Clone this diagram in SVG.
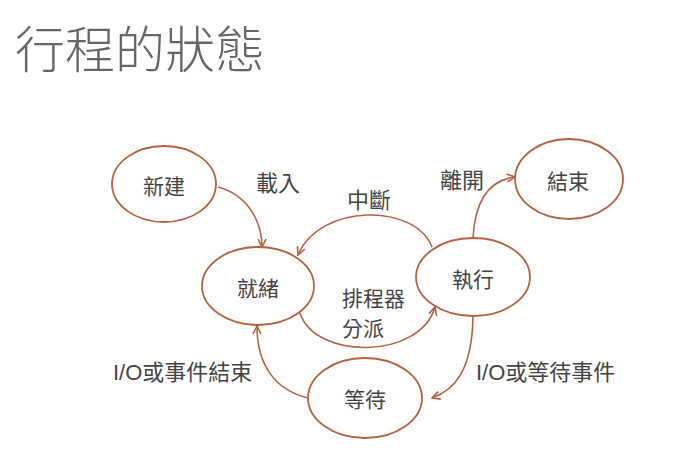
<svg xmlns="http://www.w3.org/2000/svg" width="673" height="473" viewBox="0 0 673 473">
  <style>
    .state { fill: #ffffff; stroke: #b8603f; stroke-width: 1.8; }
    .edge { fill: none; stroke: #b8603f; stroke-width: 1.6; marker-end: url(#arrow); }
    .lbl { font-family: "Noto Sans CJK TC", "Noto Sans CJK SC", sans-serif; font-size: 21px; fill: #444444; text-anchor: middle; dominant-baseline: central; }
    .edge-lbl { font-family: "Liberation Sans", "Noto Sans CJK TC", "Noto Sans CJK SC", sans-serif; font-size: 22px; fill: #444444; dominant-baseline: central; }
    .small { font-size: 21px; }
    .title { font-family: "Noto Sans CJK TC", "Noto Sans CJK SC", sans-serif; font-size: 50px; font-weight: 300; fill: #666666; }
  </style>
  <defs>
    <marker id="arrow" viewBox="0 0 10 10" refX="9" refY="5" markerWidth="10" markerHeight="10" markerUnits="userSpaceOnUse" orient="auto">
      <path d="M1,1 L9,5 L1,9" fill="none" stroke="#b8603f" stroke-width="1.6"/>
    </marker>
  </defs>

  <rect width="673" height="473" fill="#ffffff"/>

  <text class="title" x="15" y="68">行程的狀態</text>

  <!-- transitions between process states -->
  <g id="connectors">
    <path class="edge" d="M218,187 C248,195 262,222 262,247"/>
    <path class="edge" d="M432,247 C415,203 320,203 298,255"/>
    <path class="edge" d="M300,313 C315,360 420,360 435,307"/>
    <path class="edge" d="M473,238 C475,200 490,180 515,177"/>
    <path class="edge" d="M473,317 C472,370 455,390 432,398"/>
    <path class="edge" d="M308,398 C275,390 257,365 257,326"/>
    <text class="edge-lbl" x="256" y="183">載入</text>
    <text class="edge-lbl" x="347" y="200">中斷</text>
    <text class="edge-lbl" x="440" y="180">離開</text>
    <text class="edge-lbl small" x="342" y="298">排程器</text>
    <text class="edge-lbl small" x="342" y="328">分派</text>
    <text class="edge-lbl" x="113" y="372">I/O或事件結束</text>
    <text class="edge-lbl" x="476" y="372">I/O或等待事件</text>
  </g>

  <g id="state-new">
    <ellipse class="state" cx="164" cy="184" rx="52" ry="38"/>
    <text class="lbl" x="164" y="185">新建</text>
  </g>
  <g id="state-ready">
    <ellipse class="state" cx="258" cy="286" rx="56" ry="39"/>
    <text class="lbl" x="258" y="287">就緒</text>
  </g>
  <g id="state-running">
    <ellipse class="state" cx="473" cy="277" rx="57" ry="39"/>
    <text class="lbl" x="473" y="278">執行</text>
  </g>
  <g id="state-terminated">
    <ellipse class="state" cx="569" cy="179" rx="54" ry="40"/>
    <text class="lbl" x="568" y="180">結束</text>
  </g>
  <g id="state-waiting">
    <ellipse class="state" cx="365" cy="398" rx="57" ry="40"/>
    <text class="lbl" x="365" y="398">等待</text>
  </g>
</svg>
